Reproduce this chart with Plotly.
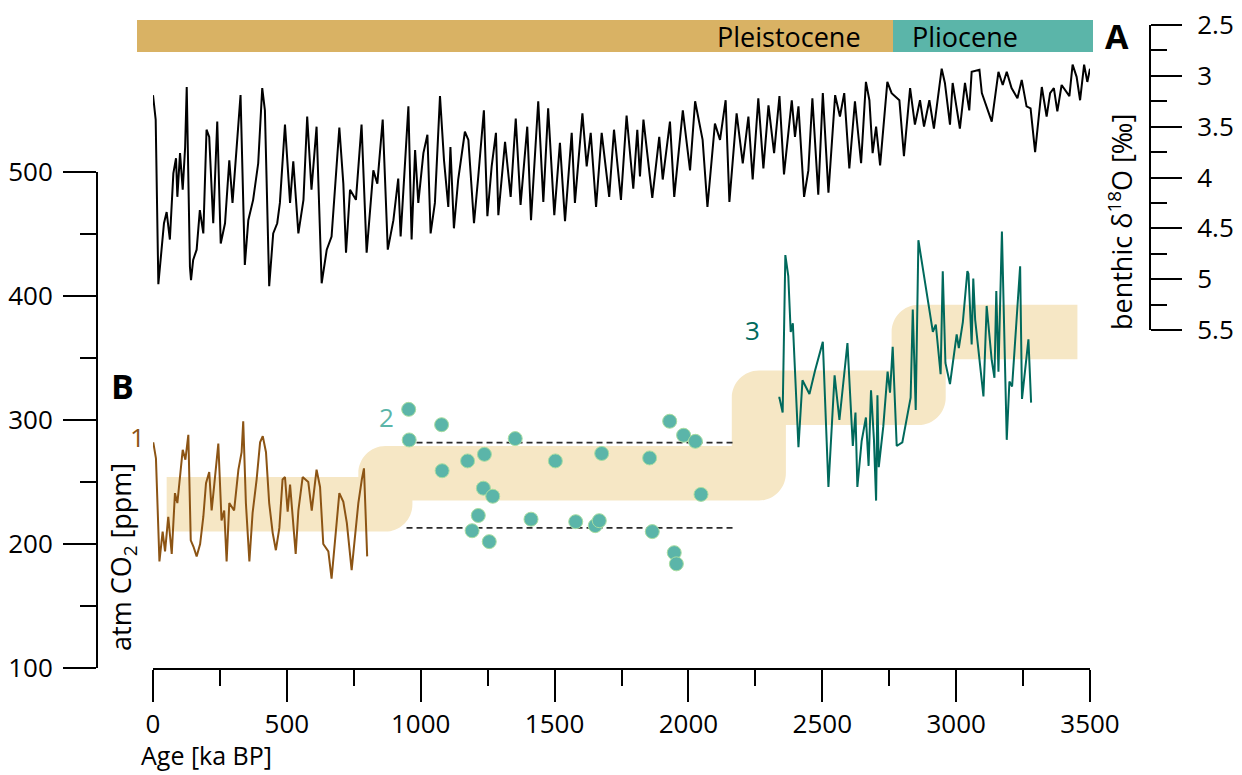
import plotly.graph_objects as go

# ---------------- data ----------------
# benthic d18O stack (ka BP, permil)
d18o_age = [0, 10, 20, 32, 41, 51, 63, 76, 86, 91, 101, 111, 120, 126, 132, 138, 142, 150, 163, 175,
            188, 200, 210, 225, 240, 253, 269, 285, 297, 313, 327, 343, 356, 374, 393, 408, 418, 434,
            449, 464, 474, 493, 512, 524, 543, 562, 576, 592, 611, 630, 649, 667, 696, 711, 721, 736,
            758, 779, 798, 823, 838, 858, 877, 898, 916, 925, 954, 966, 979, 991, 1010, 1025, 1037,
            1053, 1072, 1087, 1103, 1111, 1124, 1140, 1165, 1178, 1199, 1215, 1236, 1249, 1265, 1281,
            1290, 1315, 1336, 1355, 1373, 1398, 1412, 1439, 1458, 1476, 1499, 1520, 1539, 1564, 1576,
            1604, 1620, 1635, 1655, 1676, 1704, 1722, 1748, 1769, 1794, 1809, 1819, 1832, 1850, 1865,
            1891, 1904, 1931, 1947, 1979, 2006, 2025, 2053, 2071, 2099, 2118, 2139, 2153, 2180, 2203,
            2224, 2240, 2261, 2280, 2299, 2320, 2340, 2357, 2367, 2386, 2398, 2411, 2432, 2448, 2463,
            2485, 2502, 2523, 2548, 2566, 2582, 2601, 2622, 2645, 2663, 2676, 2688, 2701, 2716, 2743,
            2759, 2788, 2805, 2828, 2846, 2865, 2880, 2900, 2917, 2946, 2958, 2977, 2987, 3014, 3033,
            3049, 3058, 3087, 3096, 3133, 3158, 3174, 3189, 3207, 3229, 3245, 3263, 3278, 3295, 3307,
            3320, 3338, 3351, 3365, 3378, 3394, 3423, 3435, 3450, 3463, 3478, 3490, 3500]
d18o_val = [3.19, 3.43, 5.05, 4.68, 4.45, 4.34, 4.61, 3.96, 3.81, 4.19, 3.76, 4.12, 3.70, 3.11, 3.93,
            4.88, 5.01, 4.81, 4.71, 4.32, 4.55, 3.53, 3.60, 4.45, 3.45, 4.65, 4.45, 3.83, 4.25, 3.73,
            3.19, 4.86, 4.42, 4.22, 3.86, 3.12, 3.34, 5.07, 4.55, 4.45, 4.25, 3.48, 4.25, 3.84, 4.55,
            4.22, 3.40, 4.12, 3.50, 5.04, 4.71, 4.58, 3.51, 4.06, 4.74, 4.12, 4.22, 3.48, 4.74, 3.93,
            4.06, 3.43, 4.71, 4.42, 4.01, 4.58, 3.30, 4.61, 3.73, 4.25, 3.76, 3.58, 4.55, 4.25, 3.20,
            3.83, 4.29, 3.70, 4.50, 4.02, 3.55, 3.63, 4.45, 3.99, 3.34, 4.38, 3.89, 3.56, 4.37, 3.65,
            4.19, 3.42, 4.27, 3.50, 4.42, 3.25, 4.24, 3.32, 4.37, 3.66, 4.43, 3.56, 4.25, 3.37, 3.89,
            3.56, 4.29, 3.56, 4.19, 3.53, 4.22, 3.39, 4.11, 3.53, 3.99, 3.43, 3.83, 4.20, 3.60, 4.02,
            3.45, 4.19, 3.34, 3.93, 3.25, 3.63, 4.29, 3.47, 3.63, 3.24, 4.24, 3.37, 3.86, 3.40, 4.02,
            3.22, 3.91, 3.29, 3.76, 3.20, 3.97, 3.73, 3.24, 3.60, 3.30, 4.19, 3.93, 3.22, 4.17, 3.17,
            4.15, 3.19, 3.40, 3.17, 3.91, 3.25, 3.86, 3.06, 3.24, 3.76, 3.50, 3.88, 3.06, 3.17, 3.24,
            3.79, 3.12, 3.48, 3.24, 3.50, 3.24, 3.52, 2.93, 3.07, 3.48, 3.07, 3.52, 3.07, 3.34, 2.96,
            2.94, 3.17, 3.45, 2.96, 3.09, 2.96, 3.12, 3.22, 3.04, 3.30, 3.32, 3.75, 3.43, 3.11, 3.40,
            3.17, 3.12, 3.35, 3.09, 3.20, 2.89, 3.01, 3.24, 2.89, 3.06, 2.93]

# (1) ice-core CO2 (ka BP, ppm)
ice_age = [1, 11, 24, 36, 45, 57, 70, 82, 91, 111, 121, 132, 141, 151, 163, 176, 188, 198, 210, 219,
           228, 244, 256, 266, 275, 285, 303, 319, 331, 337, 347, 360, 372, 387, 400, 410, 422, 434,
           447, 459, 472, 484, 493, 503, 512, 533, 543, 559, 580, 593, 611, 624, 636, 655, 667, 680,
           696, 711, 724, 742, 755, 767, 780, 788, 800]
ice_co2 = [282, 269, 186, 210, 194, 222, 192, 241, 233, 276, 268, 288, 203, 198, 190, 200, 222, 249,
           258, 227, 246, 281, 219, 227, 186, 233, 227, 260, 274, 299, 233, 186, 225, 252, 282, 287,
           274, 233, 209, 195, 213, 252, 254, 226, 248, 192, 227, 254, 250, 227, 260, 246, 200, 194,
           172, 206, 241, 234, 217, 179, 206, 233, 252, 261, 190]

# (2) CO2 estimates, 1.0-2.1 Ma (ka BP, ppm)
dot_age = [955, 957, 1078, 1080, 1175, 1238, 1234, 1269, 1215, 1192, 1256, 1353, 1412, 1503, 1579,
           1652, 1667, 1676, 1855, 1865, 1930, 1982, 2026, 2047, 1947, 1955]
dot_co2 = [308.6, 283.9, 296.2, 259.1, 267, 272.3, 245, 238.5, 223, 210.7, 201.9, 285, 220, 267, 218,
           214.8, 218.8, 273, 269.4, 210, 299, 287.7, 282.8, 240, 193, 184]
dot_range = [213, 281.7]          # lower / upper envelope
dot_range_age = [947, 2178]

# (3) CO2 record, 2.3-3.3 Ma (ka BP, ppm)
b_age = [2336, 2340, 2352, 2362, 2373, 2382, 2390, 2411, 2426, 2452, 2473, 2502, 2523, 2546, 2564,
         2594, 2614, 2624, 2631, 2647, 2663, 2673, 2682, 2693, 2701, 2706, 2711, 2728, 2744, 2753,
         2763, 2778, 2799, 2830, 2838, 2849, 2859, 2913, 2924, 2942, 2950, 2960, 2977, 3002, 3010,
         3025, 3042, 3046, 3058, 3064, 3071, 3102, 3114, 3133, 3143, 3150, 3158, 3171, 3189, 3199,
         3209, 3239, 3246, 3270, 3280]
b_co2 = [318, 318, 306, 433, 416, 371, 378, 278, 332, 321, 340, 363, 246, 336, 300, 362, 279, 306,
         246, 283, 302, 263, 324, 284, 235, 320, 262, 295, 339, 322, 359, 279, 282, 318, 389, 308,
         445, 371, 377, 337, 420, 346, 329, 369, 358, 379, 420, 418, 361, 414, 381, 319, 392, 348,
         334, 404, 339, 452, 284, 331, 327, 424, 317, 365, 314]

# stepped CO2 ranges (centre levels in ppm, step ages in ka BP)
band_levels = [232, 257, 318, 371]
band_steps = [868, 2263, 2860]
band_start, band_end = 51, 3453

# epochs bar
epochs = ["Pleistocene", "Pliocene"]

# x axis ticks
x_ticks = [0, 500, 1000, 1500, 2000, 2500, 3000, 3500]

# ---------------- geometry helpers ----------------
W, H = 1242, 775


def fx(p):
    return p / W


def fy(p):
    return 1 - p / H


FONT = "Open Sans"
BROWN = "#8C5414"
TEAL = "#5BB5A9"
DKTEAL = "#00695C"
TAN = "#D9B264"
BAND = "#F6E7C5"


def band_path(x0, x1, steps, levels, hx, hy, k=0.5523):
    """Outline of a thick stepped ribbon with rounded outer corners."""
    p = [f"M{x0},{levels[0] + hy}"]
    for i, s in enumerate(steps):
        lo, hi = levels[i], levels[i + 1]
        p.append(f"L{s - hx},{lo + hy}")
        p.append(f"L{s - hx},{hi}")
        p.append(f"C{s - hx},{hi + k * hy} {s - k * hx},{hi + hy} {s},{hi + hy}")
    p.append(f"L{x1},{levels[-1] + hy}")
    p.append(f"L{x1},{levels[-1] - hy}")
    for i in reversed(range(len(steps))):
        s = steps[i]
        lo, hi = levels[i], levels[i + 1]
        p.append(f"L{s + hx},{hi - hy}")
        p.append(f"L{s + hx},{lo}")
        p.append(f"C{s + hx},{lo - k * hy} {s + k * hx},{lo - hy} {s},{lo - hy}")
    p.append(f"L{x0},{levels[0] - hy} Z")
    return " ".join(p)


fig = go.Figure()

# dashed envelope of the scattered estimates
for lvl in dot_range:
    fig.add_trace(go.Scatter(x=dot_range_age, y=[lvl, lvl], mode="lines",
                             line=dict(color="#2b2b2b", width=1.8, dash="6px,4px"),
                             hoverinfo="skip", showlegend=False))

fig.add_trace(go.Scatter(x=ice_age, y=ice_co2, mode="lines",
                         line=dict(color=BROWN, width=2), showlegend=False))
fig.add_trace(go.Scatter(x=b_age, y=b_co2, mode="lines",
                         line=dict(color=DKTEAL, width=2), showlegend=False))
fig.add_trace(go.Scatter(x=dot_age, y=dot_co2, mode="markers",
                         marker=dict(color=TEAL, size=14, line=dict(color="#A8DDA0", width=1)),
                         showlegend=False))
fig.add_trace(go.Scatter(x=d18o_age, y=d18o_val, mode="lines", yaxis="y2",
                         line=dict(color="black", width=2), showlegend=False))

shapes = [
    dict(type="path", xref="x", yref="y", layer="below",
         path=band_path(band_start, band_end, band_steps, band_levels, 101, 22),
         fillcolor=BAND, line=dict(width=0)),
    dict(type="rect", xref="paper", yref="paper", x0=fx(137), x1=fx(893), y0=fy(52), y1=fy(20),
         fillcolor=TAN, line=dict(width=0)),
    dict(type="rect", xref="paper", yref="paper", x0=fx(893), x1=fx(1093), y0=fy(52), y1=fy(20),
         fillcolor=TEAL, line=dict(width=0)),
]

ann = []


def label(text, x, y, size, color="black", bold=False, xanchor="center", angle=0):
    ann.append(dict(text=f"<b>{text}</b>" if bold else text, x=fx(x), y=fy(y),
                    xref="paper", yref="paper", showarrow=False, xanchor=xanchor,
                    yanchor="middle", textangle=angle,
                    font=dict(family=FONT, size=size, color=color)))


label(epochs[0], 863, 36, 27, xanchor="right")
label(epochs[1], 910, 36, 27, xanchor="left")
label("A", 1117, 36, 34, bold=True)
label("B", 122, 386, 34, bold=True)
label("1", 137, 437, 26, color=BROWN)
label("2", 386, 417, 26, color=TEAL)
label("3", 752, 330, 26, color=DKTEAL)
label("atm CO<sub>2</sub> [ppm]", 122, 557, 27, angle=-90)
label("benthic δ<sup>18</sup>O [‰]", 1121, 222, 27, angle=-90)
label("Age [ka BP]", 139, 755, 25, xanchor="left")

tickfont = dict(family=FONT, size=26, color="black")

fig.update_layout(
    width=W, height=H, margin=dict(l=0, r=0, t=0, b=0, autoexpand=False),
    paper_bgcolor="white", plot_bgcolor="rgba(0,0,0,0)",
    showlegend=False, shapes=shapes, annotations=ann,
    xaxis=dict(domain=[fx(153), fx(1090)], range=[0, 3500], anchor="y", automargin=False,
               showline=True, linecolor="black", linewidth=2, showgrid=False, zeroline=False,
               ticks="outside", ticklen=32, tickwidth=2, tickcolor="black",
               tickvals=x_ticks, tickfont=tickfont, ticklabelstandoff=0,
               minor=dict(ticks="outside", ticklen=16, tickwidth=2, tickcolor="black",
                          dtick=250, tick0=0, showgrid=False)),
    yaxis=dict(domain=[fy(668), fy(172)], range=[100, 500], anchor="free", position=fx(97),
               automargin=False,
               showline=True, linecolor="black", linewidth=2, showgrid=False, zeroline=False,
               ticks="outside", ticklen=33, tickwidth=2, tickcolor="black",
               dtick=100, tick0=100, tickfont=tickfont, ticklabelstandoff=5,
               minor=dict(ticks="outside", ticklen=16, tickwidth=2, tickcolor="black",
                          dtick=50, tick0=100, showgrid=False)),
    yaxis2=dict(domain=[fy(330), fy(25)], range=[5.5, 2.5], anchor="free", position=fx(1150),
                side="right", automargin=False,
                showline=True, linecolor="black", linewidth=2, showgrid=False, zeroline=False,
                ticks="outside", ticklen=31, tickwidth=2, tickcolor="black",
                dtick=0.5, tick0=2.5, tickfont=tickfont, ticklabelstandoff=10,
                minor=dict(ticks="outside", ticklen=16, tickwidth=2, tickcolor="black",
                           dtick=0.25, tick0=2.5, showgrid=False)),
)

fig.write_html("out.html")
